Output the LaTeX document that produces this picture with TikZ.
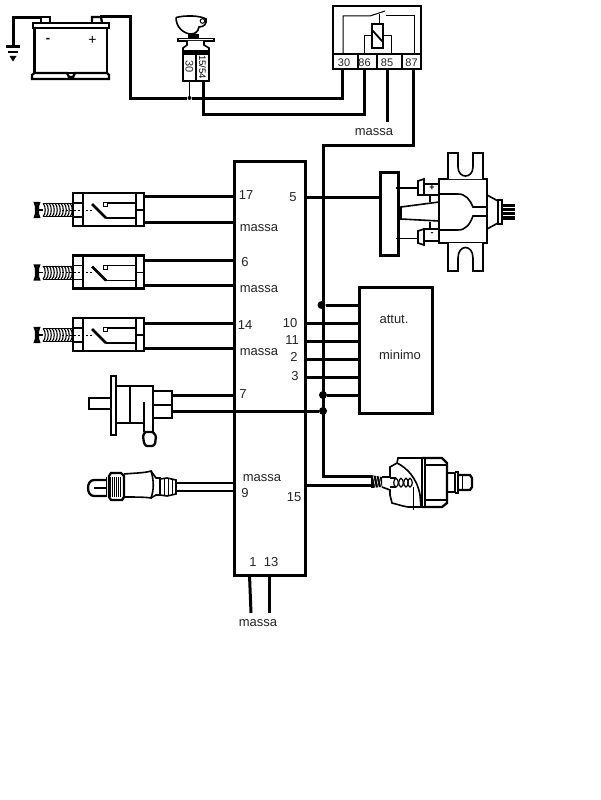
\documentclass[tikz,border=0pt]{standalone}
\usepackage{fontspec}
\setmainfont{Liberation Sans}
\usetikzlibrary{calc}
\tikzset{
  x=1pt,y=-1pt,
  wire/.style={line width=3pt,line cap=butt,line join=miter},
  thin wire/.style={line width=1.5pt},
  part/.style={line width=1.6pt,line join=miter},
  heavy/.style={line width=2.3pt,line join=miter},
  hair/.style={line width=1pt},
  box/.style={draw,line width=3pt,fill=white,rectangle,inner sep=0pt,outer sep=0pt},
  lab/.style={inner sep=0pt,outer sep=0pt,font=\fontsize{13}{13}\selectfont,text=black!85},
  tiny/.style={inner sep=0pt,outer sep=0pt,font=\fontsize{11}{11}\selectfont,text=black!85},
  dot/.style={circle,fill=black,inner sep=0pt,minimum size=8pt},
  smalldot/.style={circle,fill=black,inner sep=0pt,minimum size=4pt}
}
\begin{document}
\begin{tikzpicture}
\useasboundingbox (0,0) rectangle (600,800);
\fill[white] (0,0) rectangle (600,800);

% ---- control unit and actuator box
\node[box,minimum width=71pt,minimum height=414pt] (ecu) at (269.5,368) {};
\node[box,minimum width=73pt,minimum height=126pt] (att) at (395.5,350) {};

% ---- battery
\draw[heavy,fill=white] (41,23) -- (41,17) -- (50,17) -- (50,23);
\draw[heavy,fill=white] (92,23) -- (92,17) -- (101,17) -- (102,23);
\draw[part] (33,28) rectangle (109,23);
\draw[heavy] (34.5,28) rectangle (107,73);
\draw[heavy] (32,79) -- (32,75) -- (34.5,73) -- (67,73) -- (69,77) -- (73,77) -- (75,73) -- (107,73) -- (109,75) -- (109,79) -- cycle;
\node[inner sep=0,font=\bfseries\fontsize{13}{13}\selectfont] (minus) at (48,40.5) {-};
\node[inner sep=0,font=\fontsize{14}{14}\selectfont] (plus) at (92.5,40) {+};
\coordinate (batneg) at (41,18);
\coordinate (batpos) at (100,17);
\node[inner sep=0,minimum width=0,minimum height=0] (gnd) at (13,46) {};
\draw[wire] (batneg) -- (13,18) -- (gnd);
\draw[line width=2.2pt] (6,46.5) -- (20,46.5);
\draw[line width=2.2pt] (8,52) -- (18,52);
\fill (9.5,56) -- (16.5,56) -- (13,61.5) -- cycle;

% ---- ignition switch
\draw[part,fill=white] (176,17.5) .. controls (186,15) and (200,15.5) .. (206,19) .. controls (207,24) and (204,27) .. (199,27) .. controls (198,33) and (194,34) .. (190,34) .. controls (183,33) and (176,27) .. (176,17.5);
\draw[hair] (202.5,21) circle (2.3);
\fill (188,34) rectangle (199,39);
\draw[part] (178,38.5) rectangle (214,41);
\draw[part,fill=white] (187,41) -- (187,45) -- (183,48) -- (183,53) -- (209,53) -- (209,48) -- (204,45) -- (204,41);
\fill (183,50) rectangle (209,55);
\draw[heavy] (183,53) rectangle (209,81);
\draw[part] (196,55) -- (196,81);
\node[tiny,rotate=-90] (k30) at (189.5,67) {30};
\node[inner sep=0,font=\fontsize{9.5}{9.5}\selectfont,rotate=-90] (k15) at (202.5,67) {15/54};
\node[smalldot] (kdot) at (189.5,98) {};
\coordinate (k15end) at (203.5,81);
\draw[thin wire] (189.5,81) -- (kdot);

% ---- relay
\node[draw,line width=1.8pt,rectangle,inner sep=0,outer sep=0,minimum width=88pt,minimum height=63pt] (relay) at (377,37.5) {};
\draw[part] (333,54) -- (421,54);
\draw[part] (358,54) -- (358,69) (377,54) -- (377,69) (402,54) -- (402,69);
\draw[hair] (343,54) -- (343,16) -- (370,16) -- (385,11);
\draw[hair] (386,16) -- (414,16) -- (414,54);
\draw[hair] (379,14) -- (379,24);
\draw[heavy] (372,24) rectangle (383,48);
\draw[line width=1.8pt] (372,30) -- (383,42);
\draw[hair] (364,54) -- (364,36) -- (372,36);
\draw[hair] (383,36) -- (391,36) -- (391,54);
\node[tiny] (r30) at (344,63) {30};
\node[tiny] (r86) at (364.5,63) {86};
\node[tiny] (r85) at (387,63) {85};
\node[tiny] (r87) at (411.5,63) {87};
\node[lab] (mrel) at (374,132) {massa};

% ---- top wires
\coordinate (p30) at (342,69);
\coordinate (p86) at (364,69);
\coordinate (p85) at (387,69);
\coordinate (p87) at (413,69);
\draw[wire] (batpos) -- (130.5,17) -- (130.5,98) -- (kdot) -- (p30 |- kdot) -- (p30);
\draw[wire] (k15end) -- (203.5,114.5) -- (364,114.5) -- (p86);
\draw[wire] (p85) -- (387,122);
\draw[wire] (p87) -- (413,145.5) -- (323,145.5) -- (323,476) -- (372,476);

% ---- three switches
\foreach \i/\dy in {1/0,2/62.5,3/125}{
\begin{scope}[yshift=-\dy pt]
  \draw[heavy,fill=white] (73,193) rectangle (144,226);
  \draw[part] (83,193) -- (83,226);
  \draw[part] (136,193) -- (136,226);
  \draw[part] (136,210) -- (144,210);
  \draw[part] (73,203) -- (83,203) (73,217) -- (83,217);
  \draw[hair,dash pattern=on 2pt off 2pt] (62,210) -- (92,210);
  \draw[line width=2.6pt] (92,204) -- (106,218);
  \draw[hair] (103,202.5) rectangle (107,206.5);
  \draw[part] (107,203) -- (136,203);
  \draw[part] (106,218) -- (136,218);
  \draw[heavy] (35,203) -- (39,203) -- (38,206) -- (38,214) -- (39,217) -- (35,217) -- (36,214) -- (36,206) -- cycle;
  \draw[part] (38,210) -- (43,210);
  \foreach \s in {43,46,...,70} \draw[line width=1.1pt] (\s,203.5) .. controls (\s+3,205) and (\s+3,215) .. (\s,216.5);
  \draw[hair] (43,203.5) -- (73,203.5) (43,216.5) -- (73,216.5);
\end{scope}
}
\foreach \n/\y in {a1/196,b1/222,a2/260,b2/285,a3/323,b3/348}{
  \coordinate (\n) at (144,\y);
  \draw[wire] (\n) -- (\n -| ecu.west);
}

% ---- position sensor
\draw[heavy,fill=white] (89,398) rectangle (111,409);
\draw[heavy,fill=white] (111,376) rectangle (116,435);
\draw[heavy] (116,386) -- (153,386) -- (153,432);
\draw[heavy] (116,423) -- (144,423);
\draw[heavy] (130,386) -- (130,423);
\draw[heavy] (144,402) -- (144,432);
\draw[heavy] (154,391) -- (172,391) -- (172,418) -- (154,418);
\draw[heavy] (154,405) -- (172,405);
\draw[heavy,rounded corners=1pt] (145,432) -- (153,432) -- (156,436) -- (155,444) -- (153,446) -- (146,446) -- (144,443) -- (143,436) -- cycle;
\coordinate (c1) at (172,395);
\coordinate (c2) at (172,411);
\node[dot] (j3) at (323,411) {};
\draw[wire] (c1) -- (c1 -| ecu.west);
\draw[wire] (c2) -- (j3);

% ---- lambda probe
\draw[heavy] (106,480) -- (94,480) .. controls (90,480) and (88,484) .. (88,488) .. controls (88,492) and (90,496) .. (94,496) -- (106,496);
\draw[part] (94,488) -- (106,488);
\foreach \s in {106,108,...,120} \draw[hair] (\s,477) -- (\s,497);
\draw[heavy] (111,473) -- (121,473) -- (124,476) -- (124,497) -- (122,500) -- (111,500) -- (109,497) -- (109,476) -- cycle;
\draw[part] (124,474) .. controls (135,473) and (145,473) .. (151,471) .. controls (154,480) and (154,490) .. (151,498) .. controls (145,497) and (135,497) .. (124,497);
\draw[part] (151,471) -- (156,478) -- (160,478) -- (160,495) -- (156,495) -- (151,498);
\draw[part] (160,479) -- (167,478) -- (176,480) -- (176,494) -- (167,496) -- (160,495);
\draw[hair] (164,478) -- (164,496) (168,478) -- (168,496) (172,479) -- (172,495);
\coordinate (l1) at (176,483);
\coordinate (l2) at (176,491);
\draw[line width=2.4pt] (l1) -- (l1 -| ecu.west);
\draw[line width=2.4pt] (l2) -- (l2 -| ecu.west);

% ---- idle actuator wires
\node[dot] (j1) at (321.5,305) {};
\node[dot] (j2) at (323,395) {};
\draw[wire] (j1) -- (j1 -| att.west);
\draw[wire] (j2) -- (j2 -| att.west);
\foreach \y in {323,341,359,377}{
  \coordinate (m) at (ecu.east |- 0,\y);
  \draw[wire] (m) -- (m -| att.west);
}

% ---- motor at the top right
\node[box,minimum width=18pt,minimum height=83pt] (bar) at (389,213.5) {};
\coordinate (w5) at (305,197);
\draw[wire] (w5) -- (w5 -| bar.west);
\draw[part] (396,188) -- (418,188);
\draw[hair] (396,238) -- (418,238);
\draw[part] (418,181) -- (424,179) -- (424,195) -- (418,195) -- cycle;
\draw[part] (418,231) -- (424,229) -- (424,245) -- (418,243) -- cycle;
\draw[part] (424,184) rectangle (439,195);
\draw[part] (424,229) rectangle (439,241);
\draw[part] (430,195) -- (430,202) (430,222) -- (430,229);
\node[inner sep=0,font=\bfseries\fontsize{9}{9}\selectfont] (mp) at (432,187.5) {+};
\node[inner sep=0,font=\bfseries\fontsize{9}{9}\selectfont] (mm) at (432,234.5) {-};
\draw[part] (439,179) rectangle (487,243);
\draw[part] (439,202) -- (401,207) -- (401,219) -- (439,221);
\draw[part] (439,194) -- (458,194) .. controls (466,194) and (470,200) .. (473,207) -- (487,207);
\draw[part] (439,230) -- (458,230) .. controls (466,230) and (470,224) .. (473,216) -- (487,216);
\draw[part,fill=white] (448,179) -- (448,153) -- (458,153) -- (458,167) .. controls (458,179) and (473,179) .. (473,167) -- (473,153) -- (483,153) -- (483,179);
\draw[part,fill=white] (448,243) -- (448,271) -- (458,271) -- (458,258) .. controls (458,244) and (473,244) .. (473,258) -- (473,271) -- (483,271) -- (483,243);
\draw[part] (487,195) -- (498,201) -- (498,223) -- (487,229);
\draw[part] (498,200) rectangle (502,224);
\fill (502,204) rectangle (515,220);
\foreach \y in {207,211,215} \draw[white,line width=.4pt] (503,\y) -- (515,\y);

% ---- pressure sensor
\node[inner sep=0,minimum size=0pt] (psw) at (372,485.5) {};
\coordinate (w15) at (305,485.5);
\draw[wire] (w15) -- (psw);
\fill (371,475) -- (382,477) -- (382,487) -- (371,488) -- cycle;
\foreach \s in {373,376,379} \draw[white,line width=.5pt] (\s,475) -- (\s+3,490);
\draw[part] (382,477) -- (390,477) -- (390,467) -- (397,463) -- (398,458) -- (422,458) -- (422,507) -- (408,507) -- (403,506) -- (392,503) -- (390,495) -- (390,490) -- (382,487);
\draw[part] (390,478) -- (396,478) (390,487) -- (396,487);
\foreach \s in {396,401,406,410} \draw[line width=1.2pt] (\s,478) .. controls (\s-3,480) and (\s-3,486) .. (\s,487) .. controls (\s+3,486) and (\s+3,480) .. (\s,478);
\draw[part] (397,463) .. controls (407,468) and (417,478) .. (420,495) -- (421,507);
\draw[hair] (413,487) -- (413,510);
\draw[heavy] (422,458) -- (442,458) -- (447,463) -- (447,503) -- (442,507) -- (422,507);
\draw[part] (425,458) -- (425,507);
\draw[part] (424,465) -- (446,465) (424,500) -- (446,500);
\draw[heavy] (447,473) -- (455,473) -- (455,492) -- (447,492);
\draw[heavy] (455,472) -- (458,472) -- (458,493) -- (455,493);
\draw[heavy] (458,475) -- (470,475) -- (472,478) -- (472,487) -- (470,490) -- (458,490);
\draw[hair] (462,475) -- (462,490);

% ---- bottom wires
\coordinate (g1) at (251,613);
\coordinate (g2) at (269.5,613);
\draw[wire] (ecu.south -| 249.5,0) -- (g1);
\draw[wire] (ecu.south -| g2) -- (g2);

% ---- labels
\node[lab] (t17) at (246,195) {17};
\node[lab] (t5) at (293,197) {5};
\node[lab] (tm1) at (259,228) {massa};
\node[lab] (t6) at (245,262) {6};
\node[lab] (tm2) at (259,289) {massa};
\node[lab] (t14) at (245,325) {14};
\node[lab] (tm3) at (259,352) {massa};
\node[lab] (t10) at (290,323) {10};
\node[lab] (t11) at (292,340) {11};
\node[lab] (t2) at (294,357) {2};
\node[lab] (t3) at (295,376) {3};
\node[lab] (t7) at (243,394) {7};
\node[lab] (tm4) at (262,478) {massa};
\node[lab] (t9) at (245,493) {9};
\node[lab] (t15) at (294,497) {15};
\node[lab] (t1) at (253,562) {1};
\node[lab] (t13) at (271,562) {13};
\node[lab] (tm5) at (258,623) {massa};
\node[lab] (att1) at (394,319) {attut.};
\node[lab] (att2) at (400,355) {minimo};
\end{tikzpicture}
\end{document}
